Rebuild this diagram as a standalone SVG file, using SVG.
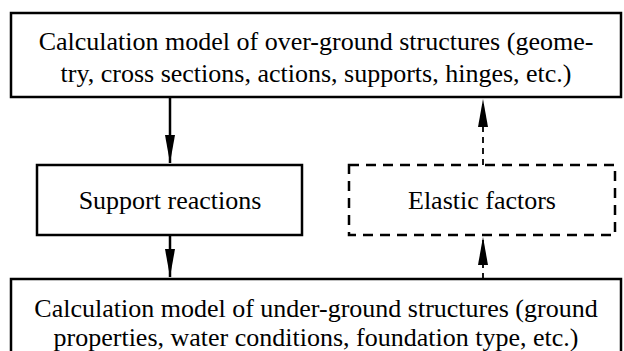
<svg xmlns="http://www.w3.org/2000/svg" width="624" height="351" viewBox="0 0 624 351">
<style>
.box{fill:#fff;stroke:#000;stroke-width:2.5}
.dash{fill:#fff;stroke:#000;stroke-width:2.5;stroke-dasharray:10 7}
.c{stroke:#000;stroke-width:2.5;fill:none}
.cd{stroke:#000;stroke-width:1.8;fill:none;stroke-dasharray:6 5}
.t{font-family:"Liberation Serif","Times New Roman",serif;font-size:26px;fill:#000;text-anchor:middle}
</style>
<defs>
<marker id="ah" viewBox="0 0 28 10" refX="28" refY="5" markerWidth="28" markerHeight="10" markerUnits="userSpaceOnUse" orient="auto">
<path d="M0,0 L28,5 L0,10 Z" fill="#000"/>
</marker>
</defs>
<rect width="624" height="351" fill="#fff"/>
<g id="connectors">
<line class="c" x1="170" y1="97" x2="170" y2="163" marker-end="url(#ah)"/>
<line class="c" x1="170" y1="235" x2="170" y2="277" marker-end="url(#ah)"/>
<line class="cd" x1="483" y1="165" x2="483" y2="99" marker-end="url(#ah)"/>
<line class="cd" x1="483" y1="279" x2="483" y2="237" marker-end="url(#ah)"/>
</g>
<g id="over-ground">
<rect class="box" x="11" y="13" width="610" height="84"/>
<text class="t" x="316" y="50">Calculation model of over-ground structures (geome-</text>
<text class="t" x="316" y="82">try, cross sections, actions, supports, hinges, etc.)</text>
</g>
<g id="support-reactions">
<rect class="box" x="37" y="165" width="265" height="70"/>
<text class="t" x="170" y="209">Support reactions</text>
</g>
<g id="elastic-factors">
<rect class="dash" x="349" y="165" width="266" height="70"/>
<text class="t" x="482" y="209">Elastic factors</text>
</g>
<g id="under-ground">
<rect class="box" x="11" y="279" width="610" height="80"/>
<text class="t" x="316" y="317">Calculation model of under-ground structures (ground</text>
<text class="t" x="316" y="346">properties, water conditions, foundation type, etc.)</text>
</g>
</svg>
